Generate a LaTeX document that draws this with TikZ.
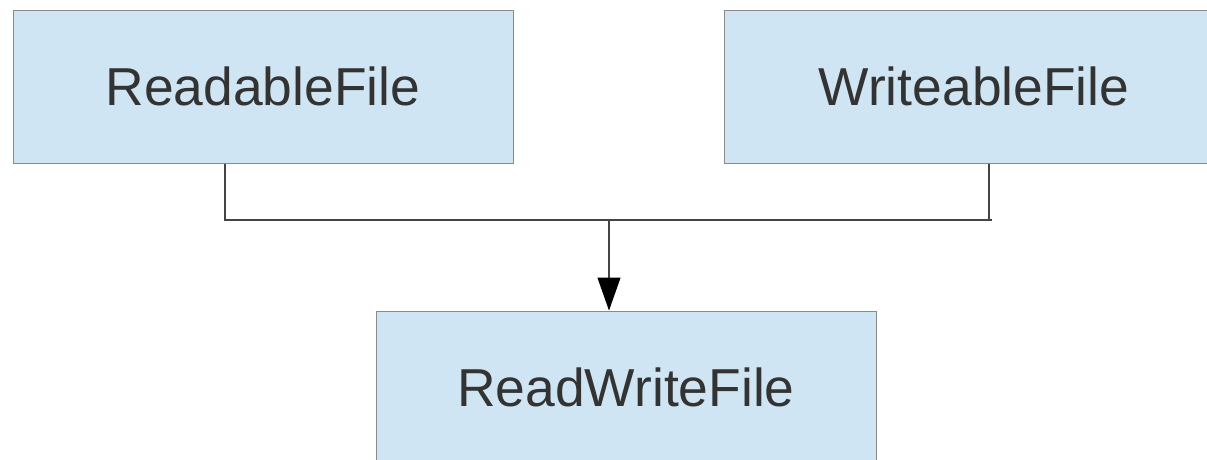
\documentclass[tikz,border=0pt]{standalone}
\usepackage{fontspec}
\setmainfont{Liberation Sans}
\usetikzlibrary{arrows.meta}
\definecolor{boxfill}{HTML}{CFE5F3}
\definecolor{boxline}{HTML}{8A8A8A}
\definecolor{textgray}{HTML}{333333}
\definecolor{wire}{HTML}{444444}
\tikzset{
  classbox/.style={draw=boxline, line width=1pt, fill=boxfill,
    minimum width=500pt, minimum height=153pt, inner sep=0pt,
    text=textgray, font=\fontsize{53.4}{60}\selectfont},
  wireline/.style={draw=wire, line width=1.1pt},
  arrowline/.style={wireline, -{Triangle[length=33pt,width=23pt,fill=black,color=black]}}
}
\begin{document}
\begin{tikzpicture}[x=1pt,y=-1pt]
\useasboundingbox (0,0) rectangle (1207,459);
\clip (0,0) rectangle (1207,459);
\node[classbox] (readable) at (263,86.5) {ReadableFile};
\node[classbox] (writeable) at (974,86.5) {WriteableFile};
\node[classbox] (readwrite) at (626,387.5) {ReadWriteFile};
\coordinate (join) at (609,220);
\coordinate (rightend) at (992,220);
\draw[wireline] (readable.south -| 225,0) -- (225,220) -- (rightend);
\draw[wireline] (writeable.south -| 989,0) -- (989,220);
\draw[arrowline] (join) -- (join |- readwrite.north);
\end{tikzpicture}
\end{document}
